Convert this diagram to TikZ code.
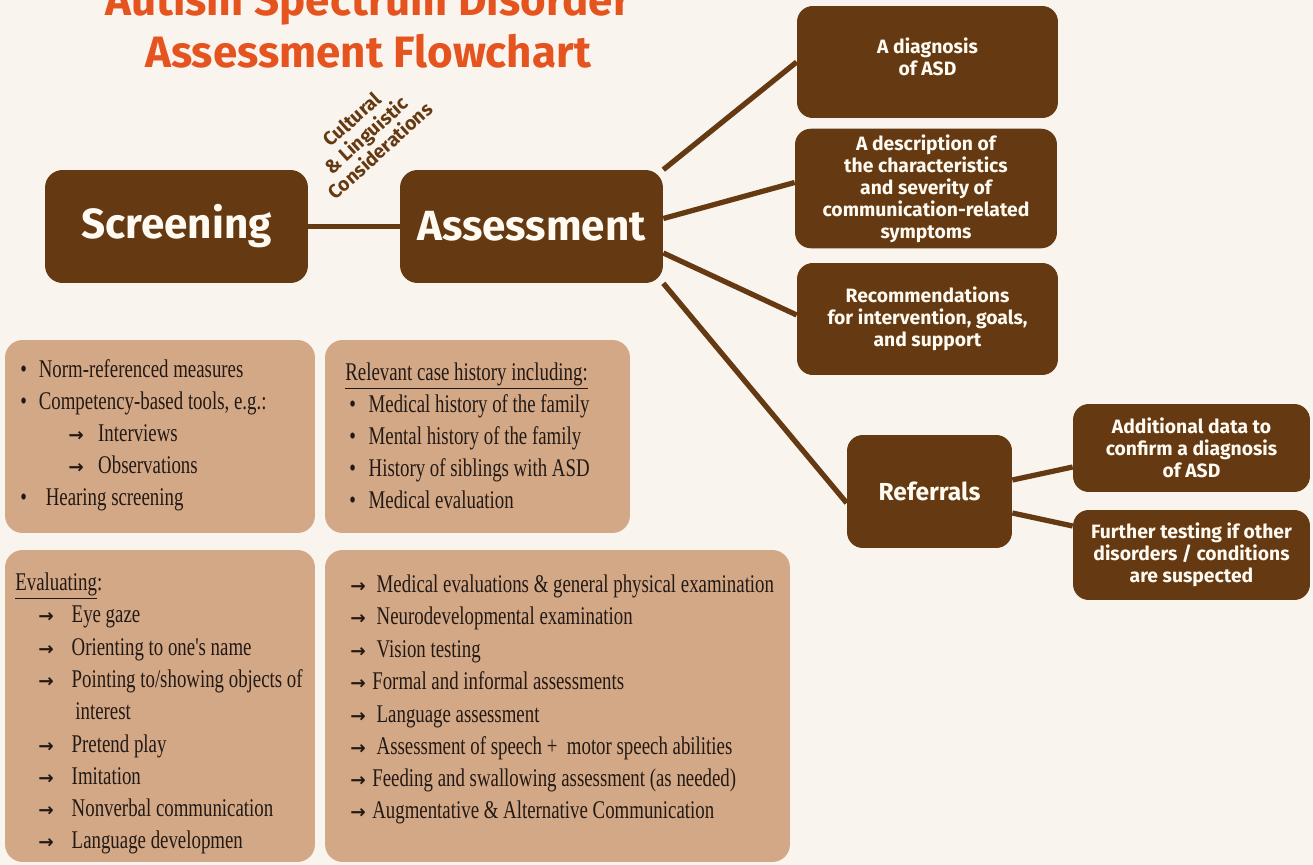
\documentclass[tikz,border=0pt]{standalone}
\usepackage{fontspec}
\setmainfont{Liberation Serif}
\newfontfamily\headfont{Fira Sans}
\newfontfamily\bodyfont{Liberation Serif}[FakeStretch=0.74]
\newfontfamily\arrowfont{DejaVu Sans}
\usetikzlibrary{positioning}
\definecolor{paper}{RGB}{249,244,238}
\definecolor{bark}{RGB}{101,58,18}
\definecolor{sand}{RGB}{211,168,134}
\definecolor{rust}{RGB}{229,83,30}
\definecolor{ink}{RGB}{35,25,20}
\definecolor{cream}{RGB}{255,250,242}

\pgfdeclarelayer{back}
\pgfdeclarelayer{links}
\pgfsetlayers{back,links,main}

% list markers
\newcommand{\arr}{{\arrowfont\bfseries\fontsize{10.5}{10}\selectfont →}}
\newcommand{\bul}{\textbullet}

\begin{document}
\begin{tikzpicture}[
    x=0.02cm, y=-0.02cm,
    % Node styles
    stage/.style={rectangle, rounded corners=10pt, fill=bark, text=cream, minimum width=52.6mm, minimum height=22.6mm, font=\headfont\bfseries\fontsize{24}{28}\selectfont},
    outcome/.style={rectangle, rounded corners=9pt, fill=bark, text=cream, align=center, font=\headfont\bfseries\fontsize{11}{12.5}\selectfont},
    notes/.style={rectangle, rounded corners=10pt, fill=sand},
    line/.style={anchor=base west, inner sep=0pt, text=ink, font=\bodyfont\fontsize{14.5}{18}\selectfont},
    % Edge styles
    link/.style={draw=bark, line width=3pt}
]
\useasboundingbox (0,0) rectangle (1313,865);
\begin{pgfonlayer}{back}
\fill[paper] (0,0) rectangle (1313,865);
\end{pgfonlayer}

% Title
\node[anchor=base, text=rust, font=\headfont\bfseries\fontsize{25}{25}\selectfont] (title1) at (368,16) {Autism Spectrum Disorder};
\node[anchor=base, text=rust, font=\headfont\bfseries\fontsize{25}{25}\selectfont] (title2) at (368,68) {Assessment Flowchart};

% Main stages
\node[stage] (screen) at (176.5,226.5) {Screening};
\node[stage] (assess) at (531.5,226.5) {Assessment};
\node[rotate=42, align=center, text=bark, font=\headfont\bfseries\fontsize{11}{12}\selectfont] (context) at (366,135) {Cultural\\ \& Linguistic\\ Considerations};

% Outcomes
\node[outcome, minimum width=52.2mm, minimum height=22.4mm] (diag) at (927.5,62) {A diagnosis\\ of ASD\\[-6pt]\mbox{}};
\node[outcome, minimum width=52.4mm, minimum height=22.6mm] (descr) at (926,188.5) {A description of\\ the characteristics\\ and severity of\\ communication-related\\ symptoms};
\node[outcome, minimum width=52.2mm, minimum height=22.4mm] (recom) at (927.5,319) {Recommendations\\ for intervention, goals,\\ and support};
\node[outcome, minimum width=33mm, minimum height=22.6mm, font=\headfont\bfseries\fontsize{14}{16}\selectfont] (refer) at (929.5,491.5) {Referrals};
\node[outcome, minimum width=47.4mm, minimum height=17.6mm] (addit) at (1191.5,448) {Additional data to\\ confirm a diagnosis\\ of ASD};
\node[outcome, minimum width=47.4mm, minimum height=18mm] (furth) at (1191.5,555) {Further testing if other\\ disorders / conditions\\ are suspected};

% Connectors
\begin{pgfonlayer}{links}
\draw[link] (screen.east) -- (assess.west);
\draw[link] (assess.north east) -- (diag.west);
\draw[link] ([yshift=1.6mm]assess.east) -- ([yshift=1.2mm]descr.west);
\draw[link] ([yshift=-5.3mm]assess.east) -- ([yshift=0.8mm]recom.west);
\draw[link] (assess.south east) -- ([yshift=-2.3mm]refer.west);
\draw[link] ([yshift=2.3mm]refer.east) -- ([yshift=-3.8mm]addit.west);
\draw[link] ([yshift=-4.3mm]refer.east) -- ([yshift=5.8mm]furth.west);
\end{pgfonlayer}

% Note boxes
\node[notes, minimum width=62mm, minimum height=38.6mm] (tools) at (160,436.5) {};
\node[notes, minimum width=61mm, minimum height=38.6mm] (history) at (477.5,436.5) {};
\node[notes, minimum width=62mm, minimum height=62.4mm] (evaluate) at (160,706) {};
\node[notes, minimum width=93mm, minimum height=62.4mm] (exams) at (557.5,706) {};

% Screening tools
\node[line] (s1) at (20,377) {\makebox[10.5pt][l]{\bul}Norm-referenced measures};
\node[line] (s2) at (20,409) {\makebox[10.5pt][l]{\bul}Competency-based tools, e.g.:};
\node[line] (s3) at (68,441) {\makebox[17pt][l]{\arr}Interviews};
\node[line] (s4) at (68,473) {\makebox[17pt][l]{\arr}Observations};
\node[line] (s5) at (20,505) {\makebox[14.5pt][l]{\bul}Hearing screening};

% Case history
\node[line] (h0) at (345,380) {\underline{Relevant case history including:}};
\node[line] (h1) at (349,412) {\makebox[11pt][l]{\bul}Medical history of the family};
\node[line] (h2) at (349,444) {\makebox[11pt][l]{\bul}Mental history of the family};
\node[line] (h3) at (349,476) {\makebox[11pt][l]{\bul}History of siblings with ASD};
\node[line] (h4) at (349,508) {\makebox[11pt][l]{\bul}Medical evaluation};

% Evaluating
\node[line] (ev0) at (15,590) {\underline{Evaluating}:};
\node[line] (ev1) at (38,622) {\makebox[19pt][l]{\arr}Eye gaze};
\node[line] (ev2) at (38,655) {\makebox[19pt][l]{\arr}Orienting to one's name};
\node[line] (ev3) at (38,687) {\makebox[19pt][l]{\arr}Pointing to/showing objects of};
\node[line] (ev4) at (75,719) {interest};
\node[line] (ev5) at (38,752) {\makebox[19pt][l]{\arr}Pretend play};
\node[line] (ev6) at (38,784) {\makebox[19pt][l]{\arr}Imitation};
\node[line] (ev7) at (38,816) {\makebox[19pt][l]{\arr}Nonverbal communication};
\node[line] (ev8) at (38,848) {\makebox[19pt][l]{\arr}Language developmen};

% Examinations
\node[line] (ax1) at (350,592) {\makebox[15pt][l]{\arr}Medical evaluations \& general physical examination};
\node[line] (ax2) at (350,624) {\makebox[15pt][l]{\arr}Neurodevelopmental examination};
\node[line] (ax3) at (350,657) {\makebox[15pt][l]{\arr}Vision testing};
\node[line] (ax4) at (350,689) {\makebox[12.5pt][l]{\arr}Formal and informal assessments};
\node[line] (ax5) at (350,722) {\makebox[15pt][l]{\arr}Language assessment};
\node[line] (ax6) at (350,754) {\makebox[15pt][l]{\arr}Assessment of speech + \ motor speech abilities};
\node[line] (ax7) at (350,786) {\makebox[12.5pt][l]{\arr}Feeding and swallowing assessment (as needed)};
\node[line] (ax8) at (350,818) {\makebox[12.5pt][l]{\arr}Augmentative \& Alternative Communication};

\end{tikzpicture}
\end{document}
